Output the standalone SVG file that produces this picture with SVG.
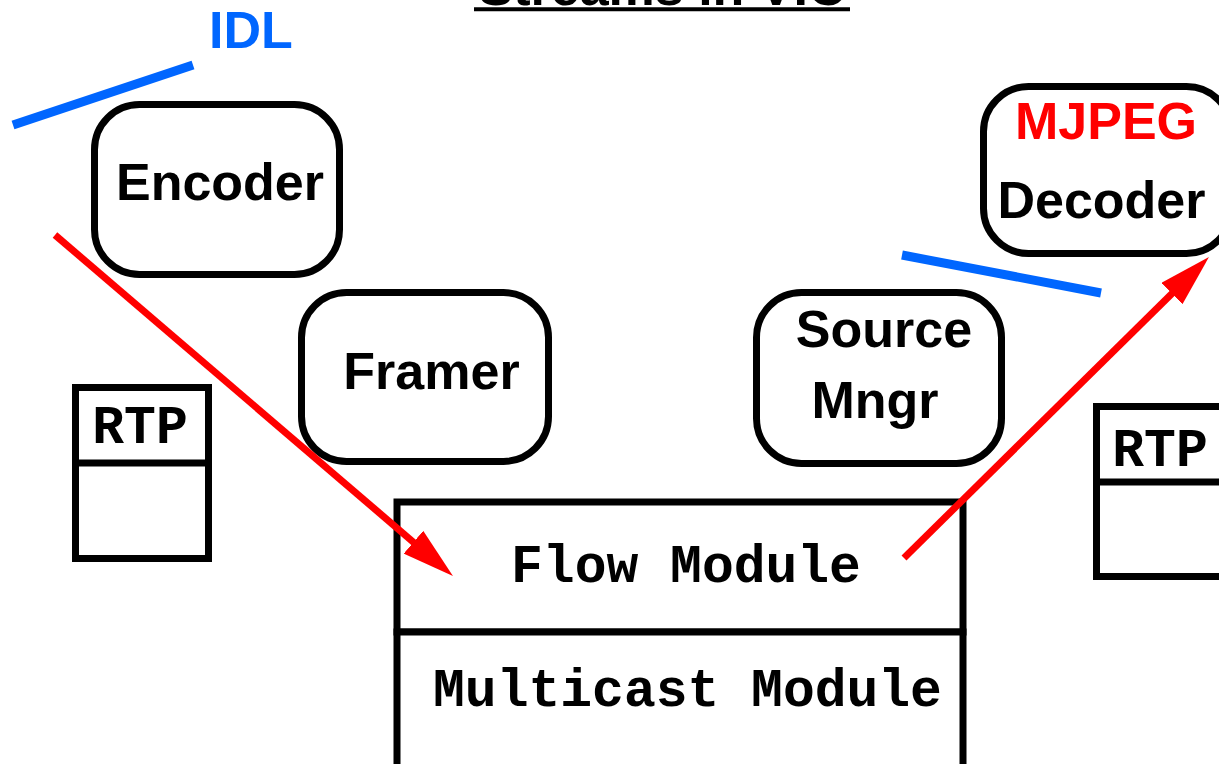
<svg xmlns="http://www.w3.org/2000/svg" width="1219" height="764" viewBox="0 0 1219 764">
  <style>
    .box { fill: #ffffff; stroke: #000000; stroke-width: 7; }
    .sans { font-family: "Liberation Sans", Arial, sans-serif; font-weight: bold; font-size: 52px; fill: #000000; text-anchor: middle; }
    .mono { font-family: "Liberation Mono", "Courier New", monospace; font-weight: bold; font-size: 53px; fill: #000000; text-anchor: middle; }
    .idl { stroke: #0066ff; stroke-width: 9; fill: none; }
    .flow { stroke: #ff0000; stroke-width: 7; fill: none; }
  </style>
  <defs>
    <marker id="redHead" markerUnits="userSpaceOnUse" markerWidth="52" markerHeight="30" refX="4" refY="15" orient="auto" viewBox="0 0 52 30">
      <path d="M0,0 L52,15 L0,30 z" fill="#ff0000"/>
    </marker>
  </defs>

  <rect width="1219" height="764" fill="#ffffff"/>

  <!-- title, mostly above the top edge -->
  <g id="title">
    <text x="662" y="5" class="sans" font-size="53">Streams in VIC</text>
    <line x1="474" y1="9.3" x2="850" y2="9.3" stroke="#000000" stroke-width="4"/>
  </g>

  <g id="idl-label">
    <text x="251" y="48" class="sans" font-size="50" style="fill:#0066ff">IDL</text>
  </g>

  <g id="encoder">
    <rect x="94.5" y="104.5" width="245" height="170" rx="45" ry="45" class="box"/>
    <text x="220" y="200" class="sans">Encoder</text>
  </g>

  <g id="framer">
    <rect x="301.5" y="292.5" width="247" height="169" rx="45" ry="45" class="box"/>
    <text x="431.5" y="389" class="sans">Framer</text>
  </g>

  <g id="source-mngr">
    <rect x="756.5" y="292.5" width="245" height="171" rx="45" ry="45" class="box"/>
    <text x="884" y="347" class="sans">Source</text>
    <text x="875" y="418" class="sans">Mngr</text>
  </g>

  <g id="decoder">
    <rect x="983.5" y="86.5" width="248" height="167" rx="45" ry="45" class="box"/>
    <text x="1106" y="139" class="sans" font-size="46" style="fill:#ff0000">MJPEG</text>
    <text x="1101.5" y="218" class="sans">Decoder</text>
  </g>

  <g id="rtp-left">
    <rect x="75.5" y="387.5" width="133" height="171" class="box"/>
    <line x1="75.5" y1="463" x2="208.5" y2="463" stroke="#000000" stroke-width="7"/>
    <text x="140" y="443" class="mono" font-size="52">RTP</text>
  </g>

  <g id="rtp-right">
    <rect x="1096.5" y="406.5" width="133" height="170" class="box"/>
    <line x1="1096.5" y1="482" x2="1229.5" y2="482" stroke="#000000" stroke-width="7"/>
    <text x="1160" y="466" class="mono" font-size="52">RTP</text>
  </g>

  <g id="flow-module">
    <rect x="397" y="502" width="566" height="130" class="box"/>
    <text x="686" y="582" class="mono">Flow Module</text>
  </g>

  <g id="multicast-module">
    <rect x="397" y="632" width="566" height="150" class="box"/>
    <text x="687.5" y="706" class="mono">Multicast Module</text>
  </g>

  <g id="connectors">
    <!-- IDL interface strokes -->
    <line x1="13" y1="125" x2="193" y2="65" class="idl"/>
    <line x1="902" y1="255" x2="1101" y2="293" class="idl"/>
    <!-- media path: encoder into the flow module, flow module out to the decoder -->
    <line x1="55" y1="235" x2="416.5" y2="544.8" class="flow" marker-end="url(#redHead)"/>
    <line x1="904" y1="558" x2="1174.8" y2="290.7" class="flow" marker-end="url(#redHead)"/>
  </g>
</svg>
